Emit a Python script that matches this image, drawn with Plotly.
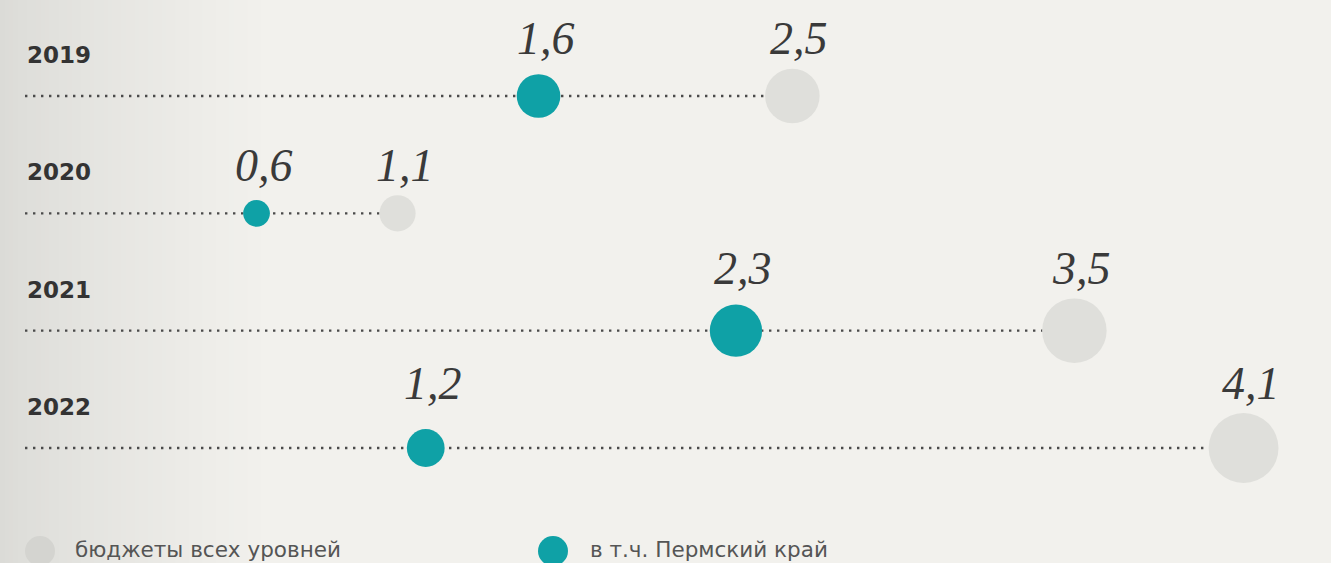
import math
import plotly.graph_objects as go

# ---- data ----
years = ["2019", "2020", "2021", "2022"]
perm_krai = [1.6, 0.6, 2.3, 1.2]          # в т.ч. Пермский край
all_budgets = [2.5, 1.1, 3.5, 4.1]        # бюджеты всех уровней
legend_labels = ["бюджеты всех уровней", "в т.ч. Пермский край"]

# ---- style ----
W, H = 1331, 563
BG = "#f2f1ed"
TEAL = "#0fa1a6"
GREY = "#dfdfdb"
GREY_SWATCH = "#d4d4d0"
DOT = "#4a4a4a"
TEXT = "#3a3a3a"
SANS = "DejaVu Sans, Open Sans, sans-serif"
SERIF = "Liberation Serif, DejaVu Serif, serif"
K = 34.5                       # diameter = K * sqrt(value)
SIZEREF = 2.0 / K ** 2
ML = 25
XRANGE = [-0.221, 4.41]
YRANGE = [3.98, -0.818]

rows = list(range(len(years)))


def fmt(v):
    return f"{v:.1f}".replace(".", ",")


def diam(v):
    return K * math.sqrt(v)


fig = go.Figure()

# dotted guide lines: from the left edge of the axis to the budgets circle
for r, g in zip(rows, all_budgets):
    fig.add_trace(go.Scatter(
        x=[XRANGE[0], g], y=[r, r], mode="lines",
        line=dict(color=DOT, width=2.4, dash="2.4px,5.6px"),
        hoverinfo="skip", showlegend=False, cliponaxis=False))

fig.add_trace(go.Scatter(
    x=all_budgets, y=rows, mode="markers", name=legend_labels[0],
    marker=dict(size=all_budgets, sizemode="area", sizeref=SIZEREF,
                color=GREY, line=dict(width=0), opacity=1),
    showlegend=False, cliponaxis=False))
fig.add_trace(go.Scatter(
    x=perm_krai, y=rows, mode="markers", name=legend_labels[1],
    marker=dict(size=perm_krai, sizemode="area", sizeref=SIZEREF,
                color=TEAL, line=dict(width=0), opacity=1),
    showlegend=False, cliponaxis=False))

annotations = []
for r, yr, p, g in zip(rows, years, perm_krai, all_budgets):
    shift = diam(max(p, g)) / 2 + 30
    for v in (p, g):
        annotations.append(dict(
            x=v, y=r, xref="x", yref="y", text=fmt(v), showarrow=False,
            xanchor="center", yanchor="middle", yshift=shift, xshift=7,
            font=dict(family=SERIF, size=46, color=TEXT, style="italic")))
    annotations.append(dict(
        x=0, y=r, xref="paper", yref="y", text=f"<b>{yr}</b>",
        showarrow=False, xanchor="left", yanchor="middle", yshift=41,
        font=dict(family=SANS, size=23, color="#333333")))

# legend (drawn manually to match large swatches)
PW = W - ML
shapes = []
for cx, tx, col, lab in [(40, 73, GREY_SWATCH, legend_labels[0]),
                          (553, 588, TEAL, legend_labels[1])]:
    shapes.append(dict(type="circle", xref="paper", yref="paper",
                       xsizemode="pixel", ysizemode="pixel",
                       xanchor=(cx - ML) / PW, yanchor=(H - 551) / H,
                       x0=-15, x1=15, y0=-15, y1=15,
                       fillcolor=col, line=dict(width=0), layer="above"))
    annotations.append(dict(
        x=(tx - ML) / PW, y=(H - 549) / H, xref="paper", yref="paper",
        text=lab, showarrow=False, xanchor="left", yanchor="middle",
        font=dict(family=SANS, size=21.5, color="#555555")))

# left-edge shading
N = 60
c0 = (0xdb, 0xdb, 0xd7)
c1 = (0xf2, 0xf1, 0xed)
for i in range(N):
    t = i / (N - 1)
    t = t ** 0.8
    col = tuple(round(a + (b - a) * t) for a, b in zip(c0, c1))
    x0 = i * 4.5
    shapes.append(dict(type="rect", xref="paper", yref="paper",
                       x0=(x0 - ML) / PW, x1=(x0 + 5 - ML) / PW, y0=0, y1=1,
                       fillcolor="rgb(%d,%d,%d)" % col, line=dict(width=0),
                       layer="below"))

fig.update_layout(
    width=W, height=H,
    margin=dict(l=ML, r=0, t=0, b=0),
    paper_bgcolor=BG, plot_bgcolor="rgba(0,0,0,0)",
    xaxis=dict(range=XRANGE, visible=False, fixedrange=True),
    yaxis=dict(range=YRANGE, visible=False, fixedrange=True),
    shapes=shapes, annotations=annotations, showlegend=False,
)

fig.write_html("out.html", config={"displayModeBar": False},
               post_script="document.body.style.margin='0px';")
